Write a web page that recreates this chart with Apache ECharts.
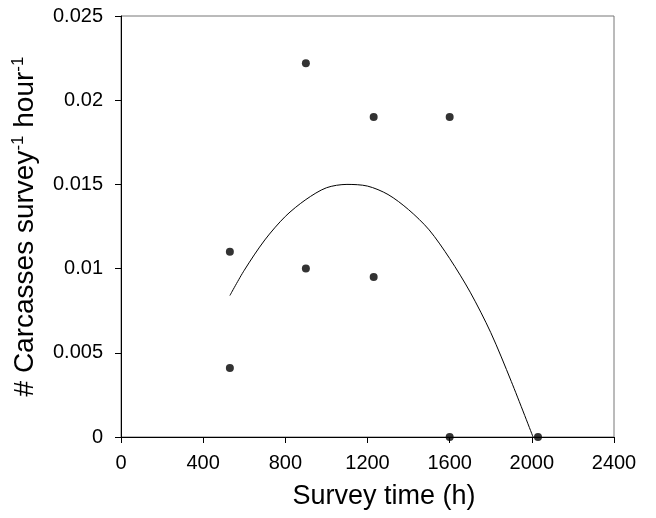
<!DOCTYPE html>
<html>
<head>
<meta charset="utf-8">
<script src="https://cdn.jsdelivr.net/npm/echarts@6/dist/echarts.min.js"></script>
<style>
html,body{margin:0;padding:0;background:#fff;}
#chart{width:656px;height:518px;}
</style>
</head>
<body>
<div id="chart"></div>
<script>
// Observed data points (survey time in hours, carcasses per survey per hour)
const surveyTime = [530, 530, 900, 900, 1230, 1230, 1600, 1600, 2030];
const carcassRate = [0.0110, 0.0041, 0.0222, 0.0100, 0.0190, 0.0095, 0.0190, 0, 0];

// Fitted curve
const curveTime = [530, 600, 700, 800, 900, 1000, 1100, 1200, 1300, 1400, 1500, 1600, 1700, 1800, 1900, 2006];
const curveRate = [0.0084, 0.0099, 0.0117, 0.0131, 0.0141, 0.0148, 0.0150, 0.0149, 0.0144, 0.0135, 0.0123, 0.0106, 0.0086, 0.0062, 0.0033, 0];

// Tick labels
const xTickLabels = ['0', '400', '800', '1200', '1600', '2000', '2400'];
const yTickLabels = ['0', '0.005', '0.01', '0.015', '0.02', '0.025'];

const FONT = '"Liberation Sans", Arial, sans-serif';

const chart = echarts.init(document.getElementById('chart'), null, {renderer: 'canvas'});
chart.setOption({
  backgroundColor: '#fff',
  animation: false,
  grid: {
    left: 121, right: 42, top: 16, bottom: 81,
    show: true, borderColor: '#777', borderWidth: 1, backgroundColor: 'transparent'
  },
  xAxis: {
    type: 'value', min: 0, max: 2400, interval: 400,
    name: 'Survey time (h)',
    nameLocation: 'middle', nameGap: 46,
    nameTextStyle: {fontFamily: FONT, fontSize: 27, color: '#000', padding: [0, 0, 0, 33]},
    axisLine: {show: true, onZero: false, lineStyle: {color: '#000', width: 1}},
    axisTick: {show: true, inside: false, length: 6, lineStyle: {color: '#000'}},
    axisLabel: {
      fontFamily: FONT, fontSize: 20, color: '#000', margin: 16,
      formatter: v => xTickLabels[Math.round(v / 400)]
    },
    splitLine: {show: false}
  },
  yAxis: {
    type: 'value', min: 0, max: 0.025, interval: 0.005,
    name: '# Carcasses survey{sup|-1} hour{sup|-1}',
    nameLocation: 'middle', nameRotate: 90, nameGap: 80,
    nameTextStyle: {
      fontFamily: FONT, fontSize: 28, color: '#000',
      rich: {
        sup: {fontFamily: FONT, fontSize: 17, color: '#000', verticalAlign: 'top', lineHeight: 31}
      }
    },
    axisLine: {show: true, onZero: false, lineStyle: {color: '#000', width: 1}},
    axisTick: {show: true, inside: false, length: 6, lineStyle: {color: '#000'}},
    axisLabel: {
      fontFamily: FONT, fontSize: 20, color: '#000', margin: 18,
      formatter: v => yTickLabels[Math.round(v / 0.005)]
    },
    splitLine: {show: false}
  },
  series: [
    {
      type: 'line',
      data: curveTime.map((t, i) => [t, curveRate[i]]),
      smooth: 0.3,
      symbol: 'none',
      clip: false,
      lineStyle: {color: '#000', width: 1}
    },
    {
      type: 'scatter',
      data: surveyTime.map((t, i) => [t, carcassRate[i]]),
      symbol: 'circle',
      symbolSize: 8,
      clip: false,
      itemStyle: {color: '#000'}
    }
  ]
});
</script>
</body>
</html>
